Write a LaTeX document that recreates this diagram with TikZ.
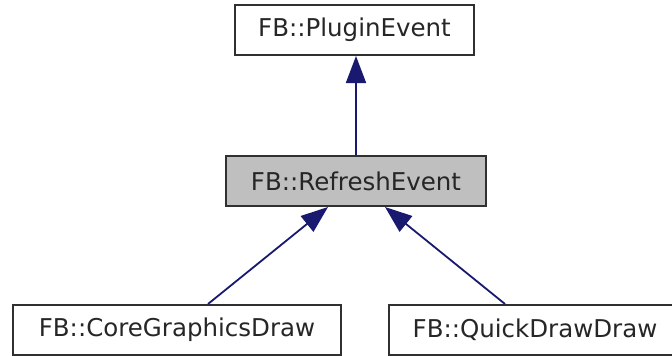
\documentclass[tikz,border=0pt]{standalone}
\usepackage{fontspec}
\setmainfont{DejaVu Sans}
\usetikzlibrary{arrows.meta}
\definecolor{edgeblue}{HTML}{191970}
\definecolor{boxline}{HTML}{303030}
\definecolor{boxgray}{HTML}{BFBFBF}
\tikzset{
  cls/.style={draw=boxline, line width=2pt, rectangle, inner sep=0pt,
    minimum height=50pt, font=\fontsize{24.5}{29}\selectfont, text=black!85},
  inh/.style={draw=edgeblue, line width=1.8pt,
    -{Triangle[length=27pt,width=20pt,fill=edgeblue]}, shorten >=0pt}
}
\begin{document}
\begin{tikzpicture}[x=1pt,y=-1pt]
\useasboundingbox (0,0) rectangle (672,356);
\clip (0,0) rectangle (672,356);
\fill[white] (0,0) rectangle (672,356);
\node[cls, minimum width=239pt] (top) at (354.5,30) {FB::PluginEvent};
\node[cls, minimum width=260pt, fill=boxgray] (mid) at (356,181) {FB::RefreshEvent};
\node[cls, minimum width=328pt] (left) at (177,330) {FB::CoreGraphicsDraw};
\node[cls, minimum width=292pt] (right) at (535,330) {FB::QuickDrawDraw};
\draw[inh] ([xshift=0pt]mid.north) -- (mid.north |- top.south);
\draw[inh] ([xshift=31pt]left.north) -- ([xshift=-28pt]mid.south);
\draw[inh] ([xshift=-30pt]right.north) -- ([xshift=29pt]mid.south);
\end{tikzpicture}
\end{document}
